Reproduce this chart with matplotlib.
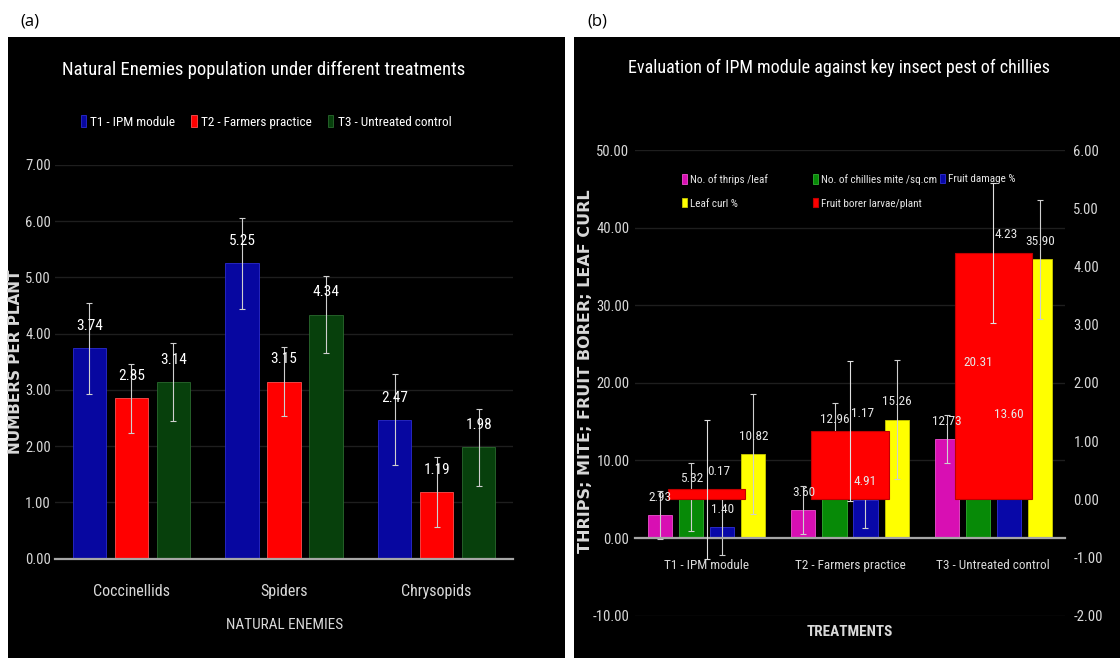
import matplotlib
matplotlib.use('Agg')
import matplotlib.pyplot as plt
import numpy as np
from matplotlib import font_manager as fm
from matplotlib.font_manager import FontProperties
from matplotlib.patches import Rectangle

# ---------------- Panel (a) data ----------------
enemies = ['Coccinellids', 'Spiders', 'Chrysopids']
a_labels = ['T1 - IPM module', 'T2 - Farmers practice', 'T3 - Untreated control']
a_t1 = [3.74, 5.25, 2.47]
a_t2 = [2.85, 3.15, 1.19]
a_t3 = [3.14, 4.34, 1.98]
a_err = [0.81, 0.62, 0.69]
a_yticks = [0, 1, 2, 3, 4, 5, 6, 7]

# ---------------- Panel (b) data ----------------
treatments = ['T1 - IPM module', 'T2 - Farmers practice', 'T3 - Untreated control']
thrips = [2.93, 3.60, 12.73]
mite = [5.32, 12.96, 20.31]
damage = [1.40, 4.91, 13.60]
leafcurl = [10.82, 15.26, 35.90]
borer = [0.17, 1.17, 4.23]
b_err = {'thrips': 3.1, 'mite': 4.4, 'damage': 3.6, 'leafcurl': 7.7, 'borer': 1.2}
b_names = {'thrips': 'No. of thrips /leaf', 'mite': 'No. of chillies mite /sq.cm',
           'damage': 'Fruit damage %', 'leafcurl': 'Leaf curl %',
           'borer': 'Fruit borer larvae/plant'}
b_yticks = [-10, 0, 10, 20, 30, 40, 50]
b_y2ticks = [-2, -1, 0, 1, 2, 3, 4, 5, 6]

# ---------------- fonts ----------------
def _w(f):
    w = f.weight
    return w if isinstance(w, int) else fm.weight_dict.get(w, 400)

def _s(f):
    s = f.stretch
    return s if isinstance(s, int) else fm.stretch_dict.get(s, 500)

def find_font(bold):
    entries = fm.fontManager.ttflist
    names = ['Liberation Sans Narrow', 'Arial Narrow', 'Roboto Condensed',
             'Open Sans Condensed', 'Noto Sans Condensed', 'DejaVu Sans Condensed']
    for n in names:
        c = [f for f in entries if f.name == n and (_w(f) >= 600) == bold and f.style == 'normal']
        if c:
            return c[0].fname
    c = [f for f in entries if _s(f) < 500 and (_w(f) >= 600) == bold and f.style == 'normal'
         and 'CJK' not in f.name]
    if c:
        return c[0].fname
    return None

NARROW = find_font(False)
NARROW_B = find_font(True)

def F(size, bold=False):
    p = NARROW_B if bold else NARROW
    if p:
        return FontProperties(fname=p, size=size)
    return FontProperties(family='Liberation Sans', weight='bold' if bold else 'normal', size=size)

TXT = '#d9d9d9'
W, H = 1120, 658
def fx(px): return px / W
def fy(py): return 1 - py / H

fig = plt.figure(figsize=(11.2, 6.58), dpi=100)
fig.patch.set_facecolor('white')
fig.add_artist(Rectangle((fx(8), 0), fx(565) - fx(8), fy(37), transform=fig.transFigure,
                         facecolor='black', edgecolor='none', zorder=0))
fig.add_artist(Rectangle((fx(574), 0), 1 - fx(574), fy(37), transform=fig.transFigure,
                         facecolor='black', edgecolor='none', zorder=0))
fig.text(fx(20), fy(22), '(a)', fontsize=12, family='Open Sans', va='center', ha='left', color='black')
fig.text(fx(587), fy(22), '(b)', fontsize=12, family='Open Sans', va='center', ha='left', color='black')

# ================= Panel (a) =================
axa = fig.add_axes([fx(55), fy(558.7), fx(513) - fx(55), fy(165) - fy(558.7)])
axa.set_facecolor('none')
xa = np.arange(len(enemies))
a_cols = ['#0707a0', '#ff0000', '#07400c']
a_edge = ['#2b2bd0', '#ff5050', '#2a6a2e']
w_a, off_a = 0.218, 0.275
for i, (vals, col, ec, lab, er) in enumerate(zip([a_t1, a_t2, a_t3], a_cols, a_edge, a_labels, a_err)):
    pos = xa + (i - 1) * off_a
    axa.bar(pos, vals, w_a, color=col, edgecolor=ec, linewidth=0.6, label=lab, zorder=3,
            yerr=er, error_kw=dict(ecolor='#cfcfcf', elinewidth=0.8, capsize=2, capthick=0.8, zorder=4))
    for xp, v in zip(pos, vals):
        axa.annotate(f'{v:.2f}', (xp, v), xytext=(0, 16), textcoords='offset points',
                     ha='center', va='center', color='white', fontproperties=F(11), zorder=6)
axa.set_xlim(-0.5, 2.5)
axa.set_ylim(0, 7)
for s in ['top', 'right', 'left']:
    axa.spines[s].set_visible(False)
axa.spines['bottom'].set_color('#a6a6a6')
axa.spines['bottom'].set_linewidth(1.6)
axa.spines['bottom'].set_zorder(5)
axa.set_yticks(a_yticks)
axa.set_yticklabels([f'{t:.2f}' for t in a_yticks])
axa.set_xticks(xa)
axa.set_xticklabels(enemies)
axa.tick_params(axis='y', length=0, pad=3, labelcolor=TXT)
axa.tick_params(axis='x', length=0, pad=18, labelcolor=TXT)
for t in axa.get_yticklabels():
    t.set_fontproperties(F(10.5)); t.set_color(TXT)
for t in axa.get_xticklabels():
    t.set_fontproperties(F(11.5)); t.set_color(TXT)
axa.grid(axis='y', color='#1e1e1e', linewidth=1.0)
axa.set_axisbelow(True)

fig.text(fx(264), fy(70), 'Natural Enemies population under different treatments',
         ha='center', va='center', color='white', fontproperties=F(13.5))
fig.text(fx(285), fy(625), 'NATURAL ENEMIES', ha='center', va='center', color=TXT,
         fontproperties=F(11))
fig.text(fx(16), fy(362), 'NUMBERS PER PLANT', rotation=90, ha='center', va='center',
         color=TXT, family='DejaVu Sans', fontweight='bold', fontsize=11)
axa.legend(loc='center', bbox_to_anchor=(fx(266), fy(122)), bbox_transform=fig.transFigure,
           ncol=3, frameon=False, handlelength=0.4, handleheight=1.0, handletextpad=0.35,
           columnspacing=1.2, labelcolor='white', prop=F(9.5))

# ================= Panel (b) =================
axb = fig.add_axes([fx(635), fy(615.7), fx(1065) - fx(635), fy(150) - fy(615.7)])
axb.set_facecolor('none')
axb2 = axb.twinx()
xb = np.arange(len(treatments))
w_b = 0.168
b_series = [('thrips', thrips, '#d80fb3', '#f050d0'),
            ('mite', mite, '#078a07', '#30b030'),
            ('damage', damage, '#0808a8', '#3030d8'),
            ('leafcurl', leafcurl, '#ffff00', '#c8c800')]
offs = [-0.325, -0.108, 0.108, 0.325]
handles = {}
for (key, vals, col, ec), o in zip(b_series, offs):
    pos = xb + o
    handles[key] = axb.bar(pos, vals, w_b, color=col, edgecolor=ec, linewidth=0.6, zorder=3,
                           label=b_names[key], yerr=b_err[key],
                           error_kw=dict(ecolor='#cfcfcf', elinewidth=0.8, capsize=2, capthick=0.8, zorder=4))
handles['borer'] = axb2.bar(xb, borer, 0.54, color='#ff0000', edgecolor='#c00000', linewidth=0.8,
                            zorder=3, label=b_names['borer'], yerr=b_err['borer'],
                            error_kw=dict(ecolor='#e0e0e0', elinewidth=0.8, capsize=2, capthick=0.8, zorder=4))
# data labels (drawn on the top axis so they sit above the red bars)
for (key, vals, col, ec), o in zip(b_series, offs):
    for xp, v in zip(xb + o, vals):
        axb2.annotate(f'{v:.2f}', (xp, v), xycoords=axb.transData, xytext=(0, 13),
                      textcoords='offset points', ha='center', va='center', color='#e6e6e6',
                      fontproperties=F(9.5), zorder=6)
for xp, v in zip(xb, borer):
    axb2.annotate(f'{v:.2f}', (xp, v), xytext=(9, 13), textcoords='offset points',
                  ha='center', va='center', color='#e6e6e6', fontproperties=F(9.5), zorder=6)

axb.set_xlim(-0.5, 2.5)
axb.set_ylim(-10, 50)
axb2.set_ylim(-2, 6)
for ax in (axb, axb2):
    for s in ['top', 'right', 'left']:
        ax.spines[s].set_visible(False)
axb2.spines['bottom'].set_visible(False)
axb.spines['bottom'].set_position(('data', 0))
axb.spines['bottom'].set_color('#a6a6a6')
axb.spines['bottom'].set_linewidth(1.6)
axb.spines['bottom'].set_zorder(5)
axb.set_yticks(b_yticks)
axb.set_yticklabels([f'{t:.2f}' for t in b_yticks])
axb2.set_yticks(b_y2ticks)
axb2.set_yticklabels([f'{t:.2f}' for t in b_y2ticks])
axb.set_xticks(xb)
axb.set_xticklabels(treatments)
axb.tick_params(axis='y', length=0, pad=4, labelcolor=TXT)
axb2.tick_params(axis='y', length=0, pad=6, labelcolor=TXT)
axb.tick_params(axis='x', length=0, pad=15, labelcolor=TXT)
for t in axb.get_yticklabels() + axb2.get_yticklabels():
    t.set_fontproperties(F(10.5)); t.set_color(TXT)
for t in axb.get_xticklabels():
    t.set_fontproperties(F(9.5)); t.set_color(TXT)
axb.grid(axis='y', color='#1e1e1e', linewidth=1.0)
axb.set_axisbelow(True)

fig.text(fx(839), fy(68), 'Evaluation of IPM module against key insect pest of chillies',
         ha='center', va='center', color='white', fontproperties=F(13))
fig.text(fx(850), fy(632), 'TREATMENTS', ha='center', va='center', color=TXT,
         fontproperties=F(11, bold=True))
fig.text(fx(586), fy(371), 'THRIPS; MITE; FRUIT BORER; LEAF CURL', rotation=90,
         ha='center', va='center', color=TXT, family='DejaVu Sans', fontweight='bold', fontsize=11.5)

order1 = ['thrips', 'leafcurl', 'mite', 'borer']
leg1 = axb2.legend([handles[k] for k in order1], [b_names[k] for k in order1],
                   loc='upper left', bbox_to_anchor=(fx(682), fy(174)), bbox_transform=fig.transFigure,
                   ncol=2, frameon=False, handlelength=0.45, handleheight=0.9, handletextpad=0.3,
                   columnspacing=4.0, labelspacing=1.2, borderpad=0, borderaxespad=0,
                   labelcolor='#e6e6e6', prop=F(8))
axb2.add_artist(leg1)
leg2 = axb2.legend([handles['damage']], [b_names['damage']],
                   loc='upper left', bbox_to_anchor=(fx(940), fy(174)), bbox_transform=fig.transFigure,
                   ncol=1, frameon=False, handlelength=0.45, handleheight=0.9, handletextpad=0.3,
                   borderpad=0, borderaxespad=0, labelcolor='#e6e6e6', prop=F(8))

fig.savefig('out.png', dpi=100, facecolor=fig.get_facecolor())
